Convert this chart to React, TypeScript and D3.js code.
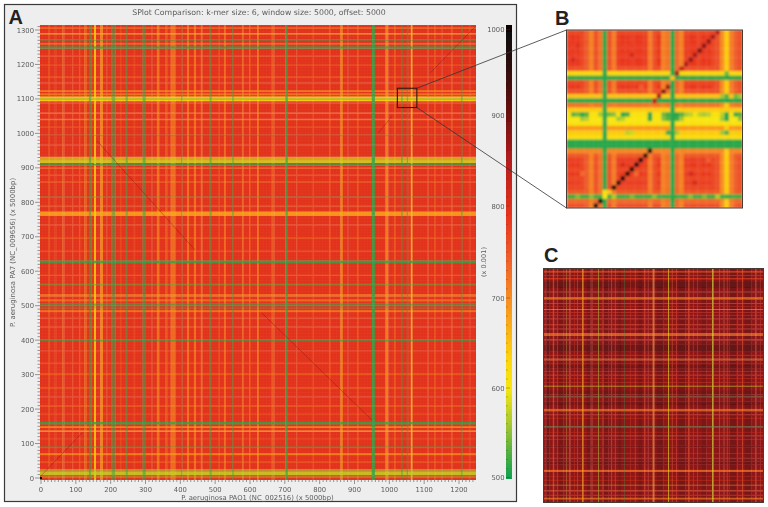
import React from "react";
import * as d3 from "d3";

type Band = [number, number, number, number]; // centre, extent, score, coverage

const titleText = "SPlot Comparison: k-mer size: 6, window size: 5000, offset: 5000";
const xLabelText = "P. aeruginosa PAO1 (NC_002516) (x 5000bp)";
const yLabelText = "P. aeruginosa PA7 (NC_009656) (x 5000bp)";
const xTicks = [0, 100, 200, 300, 400, 500, 600, 700, 800, 900, 1000, 1100, 1200];
const yTicks = [0, 100, 200, 300, 400, 500, 600, 700, 800, 900, 1000, 1100, 1200, 1300];
const scoreTicks = [500, 600, 700, 800, 900, 1000];
const scoreTickY = [477.5, 388, 298, 206, 115, 29.5];

const scoreStops = [500, 530, 560, 600, 630, 690, 740, 790, 850, 900, 950, 1000];
const scoreColors = ["#10a24f", "#58b140", "#a6c832", "#f7e60e", "#fdd70c", "#f9971f", "#f0622a", "#e8341e", "#b51c1c", "#6e1010", "#351010", "#0a0606"];

const aBase = 798;
const aCols: Band[] = [
  [22, 4, 730, 0.4], [42, 6, 740, 0.3], [64, 6, 700, 0.4], [92, 4, 730, 0.3], [112, 4, 730, 0.3], [128, 8, 700, 0.45], [141, 7, 510, 0.55], [155, 6, 640, 0.85],
  [174, 8, 680, 0.7], [190, 4, 730, 0.3], [208, 11, 510, 0.5], [228, 4, 730, 0.3], [246, 6, 510, 0.5], [268, 4, 730, 0.3], [296, 9, 510, 0.55],
  [318, 4, 730, 0.3], [336, 7, 690, 0.6], [360, 5, 700, 0.4], [379, 14, 690, 0.55], [404, 4, 510, 0.45], [422, 6, 690, 0.6],
  [442, 6, 690, 0.6], [461, 5, 690, 0.55], [487, 6, 510, 0.5], [510, 4, 730, 0.3], [528, 6, 690, 0.55], [551, 5, 510, 0.45],
  [580, 5, 690, 0.45], [600, 4, 700, 0.35], [623, 5, 690, 0.6], [666, 8, 710, 0.45], [705, 7, 510, 0.7], [735, 4, 730, 0.25], [780, 4, 730, 0.25], [830, 5, 720, 0.3],
  [863, 7, 680, 0.65], [880, 4, 730, 0.3], [910, 5, 710, 0.35], [954, 9, 510, 0.85], [993, 8, 690, 0.7], [1016, 5, 700, 0.4],
  [1036, 5, 510, 0.45], [1052, 4, 510, 0.5], [1064, 5, 650, 0.8], [1110, 4, 710, 0.35], [1130, 4, 710, 0.35], [1150, 4, 730, 0.3],
  [1179, 5, 710, 0.4], [1208, 5, 510, 0.45], [1230, 4, 730, 0.3],
];
const aRows: Band[] = [
  [4, 7, 560, 0.4], [15, 11, 575, 0.85], [24, 6, 560, 0.6], [46, 4, 720, 0.35], [70, 6, 680, 0.65], [91, 4, 510, 0.4], [115, 4, 730, 0.3],
  [137, 4, 670, 0.7], [149, 4, 680, 0.7], [160, 7, 510, 0.8], [185, 4, 730, 0.3], [209, 4, 710, 0.35], [235, 4, 730, 0.3], [261, 4, 710, 0.35],
  [302, 5, 700, 0.4], [335, 4, 730, 0.3], [368, 4, 730, 0.3], [400, 5, 510, 0.6], [438, 4, 710, 0.35], [465, 4, 730, 0.3], [485, 6, 690, 0.6],
  [496, 6, 510, 0.3], [504, 7, 510, 0.55], [516, 5, 690, 0.5], [531, 7, 690, 0.6], [562, 4, 530, 0.55], [590, 4, 730, 0.3], [628, 8, 510, 0.8],
  [660, 4, 730, 0.3], [696, 4, 710, 0.35], [734, 4, 710, 0.35], [768, 12, 675, 0.85], [790, 4, 720, 0.3], [816, 4, 510, 0.4], [859, 4, 710, 0.35], [880, 4, 730, 0.3],
  [900, 4, 700, 0.35], [910, 5, 510, 0.7], [919, 8, 580, 0.85], [928, 10, 585, 0.65], [966, 4, 710, 0.35], [995, 4, 510, 0.4], [1020, 4, 730, 0.3],
  [1041, 4, 680, 0.6], [1059, 4, 690, 0.55], [1088, 4, 700, 0.35], [1096, 4, 625, 0.9], [1101, 5, 570, 0.9], [1106, 4, 625, 0.9], [1114, 5, 690, 0.6],
  [1124, 5, 690, 0.6], [1146, 4, 710, 0.35], [1165, 4, 710, 0.35], [1200, 4, 730, 0.3], [1225, 4, 730, 0.3], [1250, 7, 510, 0.7], [1261, 4, 690, 0.55], [1271, 4, 510, 0.4],
  [1290, 4, 660, 0.7], [1306, 4, 700, 0.45],
];
const aDiagonals = [
  [-3, 3, 118, 131], [161, 978, 442, 662], [634, 479, 950, 168], [968, 1001, 1008, 1050], [1117, 1175, 1246, 1309],
];
const zoomBox = [1023, 1075, 1079, 1131];

const bCols = [780, 790, 785, 770, 745, 710, 760, 725, 510, 760, 715, 780, 790, 785, 780, 790, 785, 780, 715, 760, 790, 710, 725, 510, 735, 710, 780, 790, 785, 775, 790, 785, 770, 760, 700, 640, 715, 745, 760];
const bRows = [770, 790, 785, 780, 785, 780, 790, 785, 760, 630, 510, 770, 785, 760, 650, 510, 725, 640, 610, 600, 610, 690, 640, 620, 510, 510, 705, 750, 780, 785, 770, 785, 770, 780, 770, 750, 520, 735, 760];
const bSpots: number[][] = [
  [1, 18, 530], [2, 18, 540], [3, 18, 510], [4, 18, 530], [7, 18, 560], [8, 18, 510], [9, 18, 540], [10, 18, 550], [12, 18, 510], [13, 18, 520], [18, 18, 510], [21, 18, 540], [22, 18, 520], [24, 18, 510], [25, 18, 530],
  [26, 18, 560], [27, 18, 570], [29, 18, 570], [30, 18, 560], [31, 18, 570], [34, 18, 570], [35, 18, 510], [37, 18, 520], [38, 18, 530],
  [3, 19, 560], [4, 19, 570], [11, 19, 560], [12, 19, 570], [18, 19, 510], [21, 19, 550], [22, 19, 530], [24, 19, 520], [25, 19, 560], [35, 19, 510], [34, 19, 560], [38, 19, 550],
  [13, 22, 570], [14, 22, 580], [22, 22, 520], [24, 22, 560], [34, 22, 560], [35, 22, 530],
  [35, 9, 540], [34, 14, 560], [35, 14, 530], [37, 14, 540], [38, 14, 560], [5, 36, 550], [10, 36, 565], [14, 36, 545], [19, 36, 550], [27, 36, 550], [30, 36, 545], [33, 36, 565], [2, 36, 545],
  [8, 35, 610], [23, 10, 650], [8, 36, 600],
  [6, 38, 960], [7, 37, 985], [9, 35, 650], [10, 34, 980], [11, 33, 950], [12, 32, 985], [13, 31, 950], [14, 30, 985], [15, 29, 950], [16, 28, 985], [17, 27, 940], [18, 26, 980],
  [19, 15, 850], [20, 14, 860], [21, 13, 880], [22, 12, 870], [24, 9, 860], [25, 8, 840], [26, 7, 860], [27, 6, 870], [28, 5, 860], [29, 4, 890], [30, 3, 880], [31, 2, 870], [32, 1, 860], [33, 0, 850],
  [2, 3, 800], [1, 6, 810], [14, 5, 810], [12, 29, 810], [27, 31, 815], [28, 33, 815], [31, 28, 745], [15, 31, 735], [4, 2, 750], [3, 31, 735], [16, 12, 745],
];

const cBase = 878;
const cCols: Band[] = [
  [8, 5, 790, 0.45], [20, 14, 930, 0.4], [45, 6, 770, 0.75], [64, 3, 800, 0.45], [80, 20, 930, 0.3], [105, 3, 560, 0.3], [120, 5, 770, 0.45], [140, 3, 790, 0.45], [155, 3, 780, 0.45], [179, 7, 680, 0.65], [205, 15, 930, 0.35], [220, 3, 790, 0.45], [250, 4, 560, 0.55],
  [270, 3, 790, 0.45], [285, 20, 930, 0.3], [310, 3, 790, 0.45], [326, 4, 740, 0.5], [345, 12, 930, 0.35], [368, 4, 510, 0.35], [395, 3, 790, 0.45], [417, 4, 770, 0.65], [440, 14, 930, 0.35], [460, 4, 790, 0.5], [475, 3, 790, 0.45], [500, 8, 700, 0.7], [530, 30, 930, 0.35],
  [568, 4, 590, 0.7], [585, 4, 740, 0.5], [605, 3, 790, 0.45], [630, 30, 930, 0.35], [660, 5, 770, 0.5], [680, 3, 790, 0.45], [700, 3, 790, 0.45], [730, 20, 930, 0.3], [770, 5, 580, 0.85], [800, 4, 740, 0.45], [820, 3, 790, 0.45], [835, 4, 740, 0.45],
  [860, 30, 930, 0.35], [880, 3, 790, 0.45], [905, 4, 770, 0.5], [930, 30, 930, 0.35], [965, 4, 780, 0.45], [985, 3, 790, 0.45],
];
const cRows: Band[] = [
  [14, 8, 730, 0.5], [30, 3, 790, 0.45], [43, 5, 770, 0.6], [70, 25, 930, 0.4], [100, 3, 790, 0.4], [128, 9, 710, 0.7], [150, 3, 760, 0.45], [162, 3, 790, 0.4], [175, 4, 600, 0.5], [188, 3, 790, 0.4], [200, 4, 770, 0.5], [215, 3, 810, 0.4], [240, 4, 780, 0.4], [258, 3, 790, 0.4], [282, 13, 720, 0.7], [305, 4, 770, 0.45],
  [340, 30, 930, 0.45], [370, 3, 790, 0.4], [389, 8, 730, 0.6], [405, 3, 790, 0.4], [420, 15, 930, 0.35], [440, 4, 770, 0.45], [455, 3, 790, 0.4], [470, 4, 780, 0.4], [487, 3, 790, 0.4], [503, 4, 580, 0.65], [530, 15, 930, 0.3], [548, 4, 510, 0.3], [575, 15, 930, 0.35], [605, 10, 720, 0.7],
  [625, 3, 790, 0.4], [640, 4, 770, 0.45], [677, 5, 510, 0.45], [700, 4, 780, 0.4], [715, 3, 790, 0.4], [730, 4, 770, 0.5], [760, 10, 930, 0.3], [790, 4, 770, 0.45], [810, 3, 790, 0.4], [830, 12, 930, 0.3], [865, 9, 730, 0.8], [888, 3, 790, 0.4], [905, 4, 770, 0.45], [926, 4, 590, 0.4], [950, 4, 760, 0.5], [968, 3, 790, 0.4], [983, 7, 710, 0.65],
];

const color = d3.scaleLinear<string>().domain(scoreStops).range(scoreColors).interpolate(d3.interpolateRgb).clamp(true);

const A = { l: 40, r: 476, t: 25, b: 480 };
const B = { l: 566.5, r: 742.5, t: 30, b: 208 };
const C = { l: 543.5, r: 763.5, t: 268.5, b: 502.5 };

const xA = d3.scaleLinear().domain([0, 1200]).range([41, 459]);
const yA = d3.scaleLinear().domain([0, 1300]).range([478, 30]);
const yScore = d3.scaleLinear().domain(scoreTicks).range(scoreTickY);
const xB = d3.scaleBand<number>().domain(d3.range(bCols.length)).range([B.l, B.r]);
const yB = d3.scaleBand<number>().domain(d3.range(bRows.length)).range([B.t, B.b]);
const xC = d3.scaleLinear().domain([0, 1000]).range([C.l, C.r]);
const yC = d3.scaleLinear().domain([0, 1000]).range([C.t, C.b]);

type Seg = { a: number; b: number; v: number | null; k: number };
function segments(bands: Band[], lo: number, hi: number): Seg[] {
  const out: Seg[] = [];
  let cur = lo;
  [...bands].sort((p, q) => p[0] - q[0]).forEach(([c, w, v, k]) => {
    const s = Math.max(cur, c - w / 2);
    const e = Math.min(hi, c + w / 2);
    if (e <= s) return;
    if (s > cur) out.push({ a: cur, b: s, v: null, k: 0 });
    out.push({ a: s, b: e, v, k });
    cur = e;
  });
  if (cur < hi) out.push({ a: cur, b: hi, v: null, k: 0 });
  return out;
}
function mix(base: number, p: Seg, q: Seg) {
  const layers = [p, q].filter((s) => s.v !== null).sort((m, n) => (n.v as number) - (m.v as number));
  return layers.reduce((acc, s) => d3.interpolateRgb(acc, color(s.v as number))(s.k), color(base));
}

function Weave({ cols, rows, base, xs, ys, xd, yd }: { cols: Band[]; rows: Band[]; base: number; xs: any; ys: any; xd: number[]; yd: number[] }) {
  const cs = segments(cols, xd[0], xd[1]);
  const rs = segments(rows, yd[0], yd[1]);
  const nodes: React.ReactNode[] = [];
  rs.forEach((r, i) =>
    cs.forEach((c, j) => {
      const x0 = xs(c.a), x1 = xs(c.b), y0 = ys(r.a), y1 = ys(r.b);
      nodes.push(
        <rect key={i + "-" + j} x={Math.min(x0, x1)} y={Math.min(y0, y1)} width={Math.abs(x1 - x0) + 0.3} height={Math.abs(y1 - y0) + 0.3} fill={mix(base, r, c)} />
      );
    })
  );
  return <g>{nodes}</g>;
}

const grey = "#5c5c5c";
const sans = "'DejaVu Sans', sans-serif";

export default function App() {
  const spotMap = new Map(bSpots.map(([c, r, v]) => [c + "," + r, v]));
  const scoreCells = d3.range(500, 1005, 2);
  return (
    <svg width={768} height={507} viewBox="0 0 768 507" style={{ position: "absolute", left: 0, top: 0, display: "block", background: "#fff" }}>
      <defs>
        <filter id="soft" x="-2%" y="-2%" width="104%" height="104%"><feGaussianBlur stdDeviation="0.7" /></filter>
        <filter id="softB" x="-2%" y="-2%" width="104%" height="104%"><feGaussianBlur stdDeviation="0.8" /></filter>
        <filter id="softC" x="-2%" y="-2%" width="104%" height="104%"><feGaussianBlur stdDeviation="0.6" /></filter>
        <filter id="softT" x="-5%" y="-5%" width="110%" height="110%"><feGaussianBlur stdDeviation="0.3" /></filter>
        <clipPath id="clipA"><rect x={A.l} y={A.t} width={A.r - A.l} height={A.b - A.t} /></clipPath>
        <clipPath id="clipB"><rect x={B.l} y={B.t} width={B.r - B.l} height={B.b - B.t} /></clipPath>
        <clipPath id="clipC"><rect x={C.l} y={C.t} width={C.r - C.l} height={C.b - C.t} /></clipPath>
        <pattern id="gridA" width={2.8} height={2.8} patternUnits="userSpaceOnUse">
          <path d="M0 0H2.8M0 0V2.8" stroke="#ff9a30" strokeWidth={0.7} opacity={0.13} fill="none" />
        </pattern>
      </defs>

      <rect x={4.5} y={4.5} width={512} height={497} fill="#eeeeee" stroke="#3a3a3a" strokeWidth={1.2} />

      <g clipPath="url(#clipA)">
        <g filter="url(#soft)">
          <Weave cols={aCols} rows={aRows} base={aBase} xs={xA} ys={yA} xd={[-4, 1252]} yd={[-7, 1316]} />
          <rect x={A.l} y={A.t} width={A.r - A.l} height={A.b - A.t} fill="url(#gridA)" />
          {aDiagonals.map((d, i) => (
            <line key={i} x1={xA(d[0])} y1={yA(d[1])} x2={xA(d[2])} y2={yA(d[3])} stroke="#7a0c10" strokeWidth={1} opacity={0.35} />
          ))}
          <rect x={xA(0) - 1} y={yA(0) - 1} width={2} height={2} fill="#111" />
        </g>
      </g>

      <g filter="url(#softT)">
        {d3.range(0, 1250, 10).map((v) => (
          <line key={v} x1={xA(v)} x2={xA(v)} y1={A.b} y2={A.b + (v % 100 === 0 ? 4 : 2)} stroke="#555" strokeWidth={0.6} />
        ))}
        {d3.range(0, 1311, 10).map((v) => (
          <line key={v} y1={yA(v)} y2={yA(v)} x1={A.l} x2={A.l - (v % 100 === 0 ? 5 : 2.5)} stroke="#555" strokeWidth={0.6} />
        ))}
        {xTicks.map((t) => (
          <text key={t} x={xA(t)} y={491.5} textAnchor="middle" fontFamily={sans} fontSize={6.8} fill={grey}>{t}</text>
        ))}
        {yTicks.map((t) => (
          <text key={t} x={34} y={yA(t) + 2.5} textAnchor="end" fontFamily={sans} fontSize={6.8} fill={grey}>{t}</text>
        ))}
        <text x={259} y={14.5} textAnchor="middle" fontFamily={sans} fontSize={7.8} fill={grey}>{titleText}</text>
        <text x={257.5} y={500} textAnchor="middle" fontFamily={sans} fontSize={6.85} fill={grey}>{xLabelText}</text>
        <text transform="translate(14.5,252.5) rotate(-90)" textAnchor="middle" fontFamily={sans} fontSize={6.95} fill={grey}>{yLabelText}</text>
        <text transform="translate(485.5,262) rotate(-90)" textAnchor="middle" fontFamily={sans} fontSize={6.6} fill={grey}>(x 0.001)</text>
        {scoreTicks.map((t) => (
          <text key={t} x={504.5} y={yScore(t) + 2.5} textAnchor="end" fontFamily={sans} fontSize={6.8} fill={grey}>{t}</text>
        ))}
      </g>

      <g filter="url(#softT)">
        <g shapeRendering="crispEdges">
          {scoreCells.map((v) => (
            <rect key={v} x={506} y={yScore(v) - 1.2} width={5.5} height={2.4} fill={color(v)} />
          ))}
        </g>
        {d3.range(500, 1001, 10).map((v) => (
          <line key={v} x1={506} x2={v % 100 === 0 ? 510 : 507.5} y1={yScore(v)} y2={yScore(v)} stroke="#333" strokeWidth={0.5} opacity={0.7} />
        ))}
      </g>

      <g clipPath="url(#clipB)">
        <g filter="url(#softB)">
          {bRows.map((rv, r) =>
            bCols.map((cv, c) => {
              const spot = spotMap.get(c + "," + r);
              const v = spot !== undefined ? spot : Math.min(rv, cv);
              return <rect key={r + "-" + c} x={xB(c)} y={yB(r)} width={xB.bandwidth() + 0.3} height={yB.bandwidth() + 0.3} fill={color(v)} />;
            })
          )}
        </g>
      </g>
      <rect x={B.l} y={B.t} width={B.r - B.l} height={B.b - B.t} fill="none" stroke="#4a3a34" strokeWidth={1} />

      <g clipPath="url(#clipC)">
        <g filter="url(#softC)">
          <Weave cols={cCols} rows={cRows} base={cBase} xs={xC} ys={yC} xd={[0, 1000]} yd={[0, 1000]} />
        </g>
      </g>
      <rect x={C.l} y={C.t} width={C.r - C.l} height={C.b - C.t} fill="none" stroke="#4a3a34" strokeWidth={1} />

      <rect x={xA(zoomBox[0])} y={yA(zoomBox[3])} width={xA(zoomBox[2]) - xA(zoomBox[0])} height={yA(zoomBox[1]) - yA(zoomBox[3])} fill="none" stroke="#2b1a14" strokeWidth={1.1} />
      <line x1={xA(zoomBox[2])} y1={yA(zoomBox[3])} x2={B.l} y2={B.t} stroke="#333" strokeWidth={0.8} />
      <line x1={xA(zoomBox[2])} y1={yA(zoomBox[1])} x2={B.l} y2={B.b} stroke="#333" strokeWidth={0.8} />

      <g fontFamily="'Liberation Sans', sans-serif" fontWeight="bold" fontSize={20} fill="#222">
        <text x={8.5} y={23.5}>A</text>
        <text x={555} y={25}>B</text>
        <text x={544} y={262}>C</text>
      </g>
    </svg>
  );
}
